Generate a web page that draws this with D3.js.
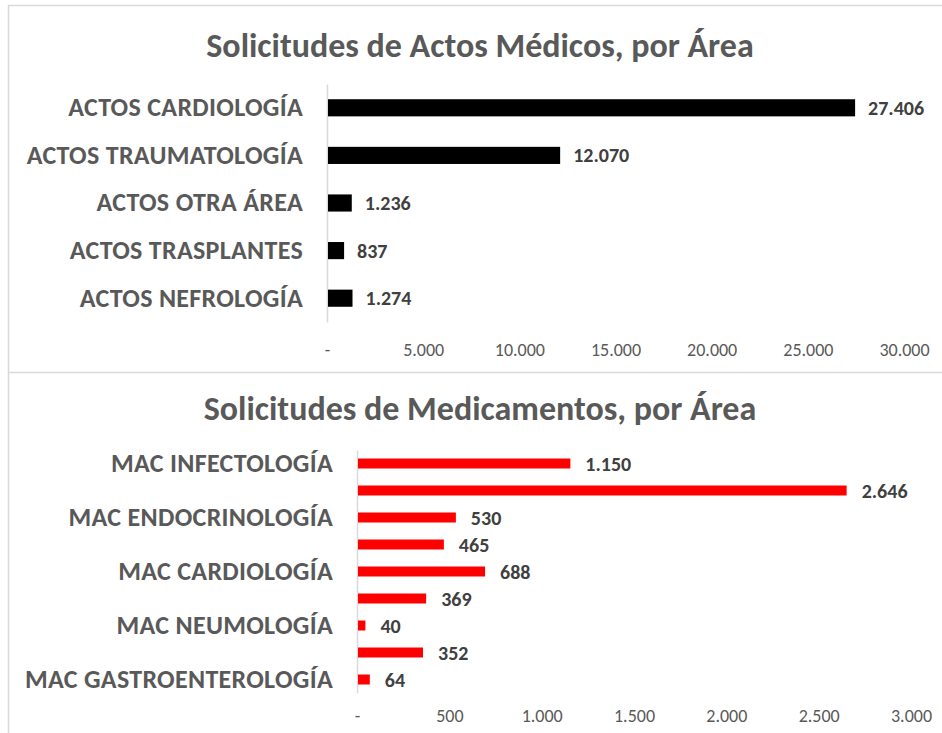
<!DOCTYPE html>
<html>
<head>
<meta charset="utf-8">
<script src="https://cdn.jsdelivr.net/npm/d3@7"></script>
<style>
  body { margin: 0; background: #fff; }
  svg { font-family: Carlito, Lato, "Open Sans", sans-serif; }
</style>
</head>
<body>
<svg id="chart" width="942" height="733"></svg>
<script>
// top chart: actos medicos
const actosAreas = ['ACTOS CARDIOLOGÍA', 'ACTOS TRAUMATOLOGÍA', 'ACTOS OTRA ÁREA', 'ACTOS TRASPLANTES', 'ACTOS NEFROLOGÍA'];
const actosValues = [27406, 12070, 1236, 837, 1274];
const actosTicks = [0, 5000, 10000, 15000, 20000, 25000, 30000];

// bottom chart: medicamentos (excel hides every other category label)
const macAreas = ['MAC INFECTOLOGÍA', '', 'MAC ENDOCRINOLOGÍA', '', 'MAC CARDIOLOGÍA', '', 'MAC NEUMOLOGÍA', '', 'MAC GASTROENTEROLOGÍA'];
const macValues = [1150, 2646, 530, 465, 688, 369, 40, 352, 64];
const macTicks = [0, 500, 1000, 1500, 2000, 2500, 3000];

const FONT = 'Carlito, Lato, "Open Sans", sans-serif';
const svg = d3.select('#chart');

// number format with dot thousands, "-" for zero
const es = d3.formatLocale({ decimal: ',', thousands: '.', grouping: [3], currency: ['', ''] });
const fmt = es.format(',d');
const tickFmt = d => d === 0 ? '-' : fmt(d);

// frames
svg.append('line').attr('x1', 8).attr('x2', 942).attr('y1', 5.5).attr('y2', 5.5)
  .attr('stroke', '#d9d9d9').attr('stroke-width', 1.5);
svg.append('line').attr('x1', 8.5).attr('x2', 8.5).attr('y1', 5).attr('y2', 733)
  .attr('stroke', '#d9d9d9').attr('stroke-width', 1.5);
svg.append('line').attr('x1', 8).attr('x2', 942).attr('y1', 372.5).attr('y2', 372.5)
  .attr('stroke', '#d9d9d9').attr('stroke-width', 1.5);

function barChart(opts){
  const g = svg.append('g');

  g.append('text')
    .attr('x', opts.titleX).attr('y', opts.titleY)
    .attr('text-anchor', 'middle')
    .attr('font-size', 34).attr('font-weight', 'bold')
    .attr('fill', '#595959')
    .text(opts.title);

  const x = d3.scaleLinear().domain([0, opts.max]).range(opts.xRange);
  const y = d3.scaleBand().domain(d3.range(opts.values.length)).range(opts.yRange).paddingInner(opts.pad).paddingOuter(opts.pad / 2);

  // category axis
  const yAxis = d3.axisLeft(y).tickSize(0).tickPadding(24).tickFormat(i => opts.labels[i]);
  const ya = g.append('g').attr('transform', `translate(${opts.xRange[0]},0)`).call(yAxis)
    .attr('font-family', FONT);
  ya.select('.domain').attr('stroke', '#d9d9d9').attr('stroke-width', 1.5);
  ya.selectAll('text')
    .attr('font-size', opts.catSize).attr('font-weight', 'bold')
    .attr('letter-spacing', 0.3)
    .attr('fill', '#595959');

  // value axis, no line
  const xAxis = d3.axisBottom(x).tickValues(opts.ticks).tickSize(0).tickPadding(0).tickFormat(tickFmt);
  const xa = g.append('g').attr('transform', `translate(0,${opts.tickY})`).call(xAxis)
    .attr('font-family', FONT);
  xa.select('.domain').remove();
  xa.selectAll('text')
    .attr('font-size', 18).attr('fill', '#595959').attr('dy', '0');

  g.selectAll('rect.bar')
    .data(opts.values)
    .join('rect')
    .attr('class', 'bar')
    .attr('x', x(0) + 1)
    .attr('y', (d, i) => y(i))
    .attr('width', d => x(d) - x(0))
    .attr('height', y.bandwidth())
    .attr('fill', opts.color);

  g.selectAll('text.val')
    .data(opts.values)
    .join('text')
    .attr('class', 'val')
    .attr('x', d => x(d) + opts.labelGap)
    .attr('y', (d, i) => y(i) + y.bandwidth() / 2)
    .attr('dy', '0.35em')
    .attr('font-size', 20).attr('font-weight', 'bold')
    .attr('fill', '#404040')
    .text(d => fmt(d));
}

barChart({
  title: 'Solicitudes de Actos Médicos, por Área', titleX: 480, titleY: 57,
  labels: actosAreas, values: actosValues, ticks: actosTicks, max: 30000,
  xRange: [327, 904], yRange: [84, 322], pad: 0.64, tickY: 356,
  catSize: 26, color: '#000', labelGap: 14
});

barChart({
  title: 'Solicitudes de Medicamentos, por Área', titleX: 480, titleY: 420,
  labels: macAreas, values: macValues, ticks: macTicks, max: 3000,
  xRange: [357, 911], yRange: [450, 693], pad: 0.63, tickY: 722,
  catSize: 26, color: '#ff0000', labelGap: 16
});
</script>
</body>
</html>
